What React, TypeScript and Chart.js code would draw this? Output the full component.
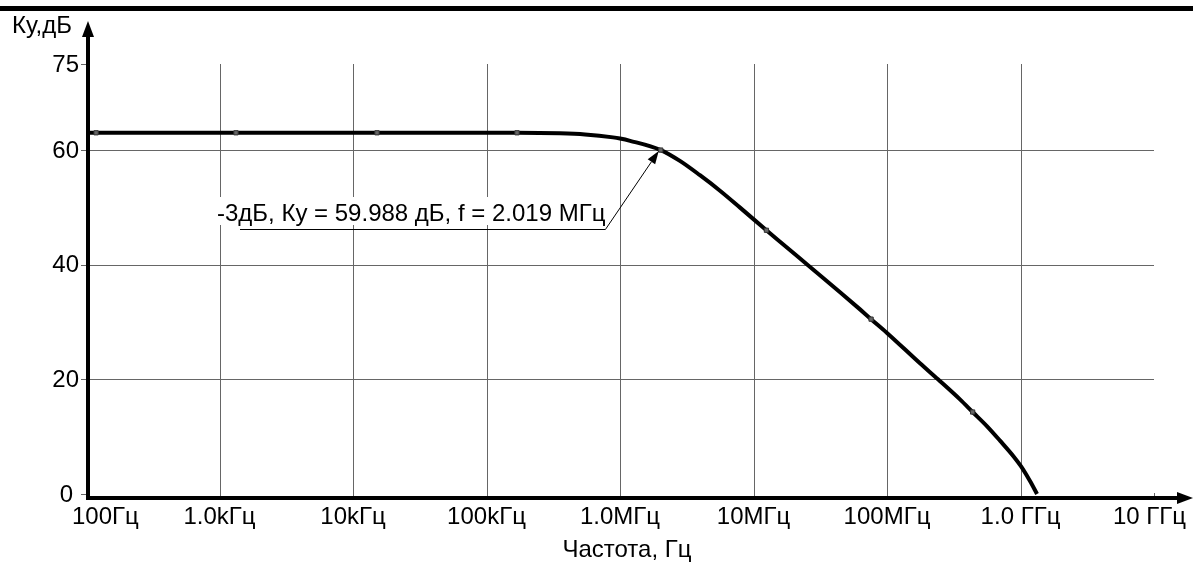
import React, { useEffect, useRef } from "react";
import { Chart, registerables } from "chart.js";
Chart.register(...registerables);

// Frequency response curve
const freqHz = [
  100, 1329, 15130, 169300, 355000, 547000, 886000, 1000000, 1190000, 2019000,
  2810000, 3970000, 5610000, 7930000, 12500000, 15800000, 25600000, 44500000,
  62800000, 76000000, 100000000, 176600000, 241000000, 352000000, 438000000,
  562000000, 702000000, 891000000, 1010000000, 1175000000, 1330000000,
];
const gainDb = [
  63.0, 63.0, 63.0, 63.0, 62.9, 62.7, 62.2, 62.0, 61.6, 59.988,
  58.1, 55.6, 52.9, 49.95, 46.0, 44.0, 39.9, 35.2,
  32.2, 30.5, 28.1, 22.8, 20.0, 16.5, 14.3,
  11.8, 9.3, 6.5, 4.8, 2.3, 0,
];

// Small square markers on the curve
const markerFreqHz = [119, 1329, 15130, 169300, 2019000, 12500000, 76000000, 438000000];
const markerGainDb = [63.0, 63.0, 63.0, 63.0, 59.988, 46.0, 30.5, 14.3];

// Axis ticks
const xTickHz = [1e2, 1e3, 1e4, 1e5, 1e6, 1e7, 1e8, 1e9, 1e10];
const xTickLabels = ["100Гц", "1.0kГц", "10kГц", "100kГц", "1.0MГц", "10MГц", "100MГц", "1.0 ГГц", "10 ГГц"];
const yTicks = [0, 20, 40, 60, 75];
const yGrid = [20, 40, 60];

// Annotation (-3 dB point)
const annFreqHz = 2019000;
const annGainDb = 59.988;
const annText = "-3дБ, Ку = 59.988 дБ, f = 2.019 МГц";

const xTitle = "Частота, Гц";
const yTitle = "Ку,дБ";

const FONT = '"Liberation Sans", Arial, sans-serif';

const decorPlugin = {
  id: "decor",
  beforeDatasetsDraw(chart: any) {
    const ctx = chart.ctx as CanvasRenderingContext2D;
    const xs = chart.scales.x;
    const ys = chart.scales.y;
    ctx.save();
    // top thick bar
    ctx.fillStyle = "#000";
    ctx.fillRect(0, 6, chart.width, 5);
    // grid
    ctx.strokeStyle = "#666";
    ctx.lineWidth = 1;
    for (const v of yGrid) {
      const y = Math.round(ys.getPixelForValue(v)) + 0.5;
      ctx.beginPath();
      ctx.moveTo(xs.getPixelForValue(xTickHz[0]), y);
      ctx.lineTo(xs.getPixelForValue(xTickHz[xTickHz.length - 1]), y);
      ctx.stroke();
    }
    for (let i = 1; i < xTickHz.length - 1; i++) {
      const x = Math.round(xs.getPixelForValue(xTickHz[i])) + 0.5;
      ctx.beginPath();
      ctx.moveTo(x, ys.getPixelForValue(75));
      ctx.lineTo(x, ys.getPixelForValue(0) + 5);
      ctx.stroke();
    }
    // short tick at last decade
    {
      const x = Math.round(xs.getPixelForValue(xTickHz[xTickHz.length - 1])) + 0.5;
      ctx.beginPath();
      ctx.moveTo(x, ys.getPixelForValue(0) - 1);
      ctx.lineTo(x, ys.getPixelForValue(0) + 5);
      ctx.stroke();
    }
    // y ticks
    for (const v of yTicks) {
      const y = Math.round(ys.getPixelForValue(v)) + 0.5;
      ctx.beginPath();
      ctx.moveTo(xs.left - 5, y);
      ctx.lineTo(xs.left + 2, y);
      ctx.stroke();
    }
    ctx.restore();
  },
  afterDatasetsDraw(chart: any) {
    const ctx = chart.ctx as CanvasRenderingContext2D;
    const xs = chart.scales.x;
    const ys = chart.scales.y;
    ctx.save();
    ctx.font = `24px ${FONT}`;
    const tx = 217;
    const tb = 221;
    const w = ctx.measureText(annText).width;
    ctx.fillStyle = "#fff";
    ctx.fillRect(tx - 2, 197, w + 4, 28);
    ctx.fillStyle = "#000";
    ctx.textAlign = "left";
    ctx.textBaseline = "alphabetic";
    ctx.fillText(annText, tx, tb);
    const px = xs.getPixelForValue(annFreqHz) - 2;
    const py = ys.getPixelForValue(annGainDb) + 1;
    const ux = tx + w;
    const uy = 229.5;
    ctx.strokeStyle = "#000";
    ctx.lineWidth = 1;
    ctx.beginPath();
    ctx.moveTo(240, uy);
    ctx.lineTo(ux, uy);
    const ang = Math.atan2(py - uy, px - ux);
    const len = 13;
    const bx = px - Math.cos(ang) * len;
    const by = py - Math.sin(ang) * len;
    ctx.lineTo(bx, by);
    ctx.stroke();
    ctx.beginPath();
    ctx.moveTo(px, py);
    ctx.lineTo(bx + Math.sin(ang) * 4.5, by - Math.cos(ang) * 4.5);
    ctx.lineTo(bx - Math.sin(ang) * 4.5, by + Math.cos(ang) * 4.5);
    ctx.closePath();
    ctx.fill();
    ctx.restore();
  },
  afterDraw(chart: any) {
    const ctx = chart.ctx as CanvasRenderingContext2D;
    const xs = chart.scales.x;
    const ys = chart.scales.y;
    const y0 = ys.getPixelForValue(0);
    ctx.save();
    ctx.fillStyle = "#000";
    // y axis
    ctx.fillRect(86, 30, 4, y0 + 6 - 30);
    ctx.beginPath();
    ctx.moveTo(88, 21);
    ctx.lineTo(94, 37);
    ctx.lineTo(82, 37);
    ctx.closePath();
    ctx.fill();
    // x axis
    ctx.fillRect(86, 496, 1182 - 86, 4);
    ctx.beginPath();
    ctx.moveTo(1193, 498);
    ctx.lineTo(1177, 492);
    ctx.lineTo(1177, 504);
    ctx.closePath();
    ctx.fill();
    // y labels
    ctx.font = `24px ${FONT}`;
    ctx.textAlign = "right";
    ctx.textBaseline = "middle";
    for (const v of yTicks) {
      const right = v === 0 ? 73 : 79;
      ctx.fillText(String(v), right, ys.getPixelForValue(v) + 1);
    }
    // x labels
    ctx.textAlign = "center";
    ctx.textBaseline = "alphabetic";
    xTickHz.forEach((f, i) => {
      const lbl = xTickLabels[i];
      const w = ctx.measureText(lbl).width;
      let cx = xs.getPixelForValue(f);
      cx = Math.max(cx, 72 + w / 2);
      cx = Math.min(cx, 1186 - w / 2);
      ctx.fillText(lbl, cx, 524);
    });
    // titles
    ctx.fillText(xTitle, (xs.left + xs.right) / 2 + 7, 557);
    ctx.textAlign = "left";
    ctx.font = `24px ${FONT}`;
    ctx.fillText(yTitle, 12, 33);
    ctx.restore();
  },
};

export default function App() {
  const ref = useRef<HTMLCanvasElement | null>(null);
  useEffect(() => {
    document.body.style.margin = "0";
    const canvas = ref.current;
    if (!canvas) return;
    const chart = new Chart(canvas, {
      type: "line",
      data: {
        datasets: [
          {
            data: markerFreqHz.map((f, i) => ({ x: f, y: markerGainDb[i] })),
            showLine: false,
            pointStyle: "rect",
            pointRadius: 3,
            pointBorderWidth: 1,
            pointBorderColor: "#333",
            pointBackgroundColor: "#666",
            order: 0,
            clip: false,
          } as any,
          {
            data: freqHz.map((f, i) => ({ x: f, y: gainDb[i] })),
            borderColor: "#000",
            borderWidth: 4,
            pointRadius: 0,
            cubicInterpolationMode: "monotone",
            fill: false,
            order: 1,
            clip: false,
          } as any,
        ],
      },
      options: {
        responsive: false,
        animation: false,
        events: [],
        layout: { padding: { left: 86, right: 39, top: 64, bottom: 69 } },
        plugins: { legend: { display: false }, tooltip: { enabled: false } },
        scales: {
          x: { type: "logarithmic", min: 100, max: 1e10, display: false },
          y: { type: "linear", min: 0, max: 75, display: false },
        },
      },
      plugins: [decorPlugin],
    });
    return () => chart.destroy();
  }, []);
  return (
    <div style={{ width: 1193, height: 563, background: "#fff" }}>
      <canvas ref={ref} width={1193} height={563} style={{ display: "block" }} />
    </div>
  );
}
